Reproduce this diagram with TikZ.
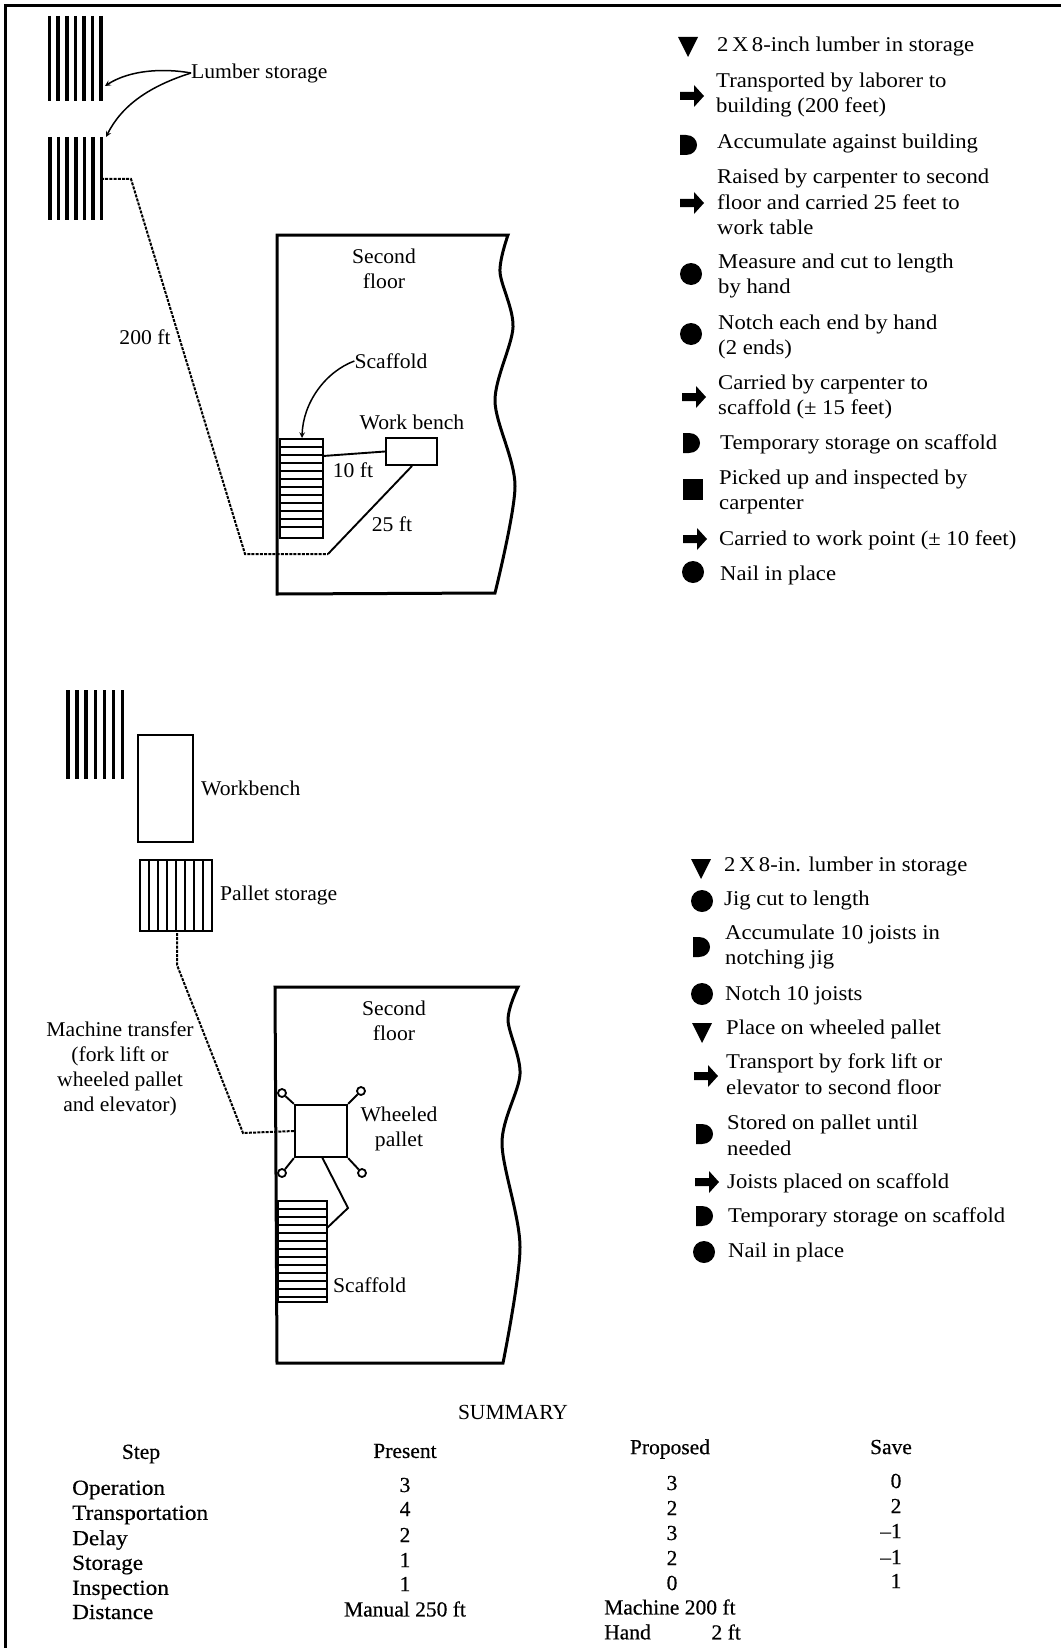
\documentclass[tikz,border=0pt]{standalone}
\usepackage{fontspec}
\setmainfont{Liberation Serif}
\newfontfamily\lblfont[FakeStretch=1.03]{Liberation Serif}
\newfontfamily\stepfont[FakeStretch=1.08]{Liberation Serif}
\newfontfamily\tblfont[FakeBold=0.5]{Liberation Serif}
\newfontfamily\rowfont[FakeBold=0.5,FakeStretch=1.08]{Liberation Serif}
\usepackage{tikz}
\usetikzlibrary{positioning}
\newcommand{\symstore}[2]{\fill[shift={(#1,#2)}] (-10,-9) -- (10,-9) -- (0,11) -- cycle;}
\newcommand{\symmove}[2]{\fill[shift={(#1,#2)}] (-12,-4) -- (2,-4) -- (2,-11) -- (12,0) -- (2,11) -- (2,4) -- (-12,4) -- cycle;}
\newcommand{\symdelay}[2]{\fill[shift={(#1,#2)}] (-8,-10) -- (-2,-10) .. controls (5,-10) and (9,-5) .. (9,0) .. controls (9,5) and (5,10) .. (-2,10) -- (-8,10) -- cycle;}
\newcommand{\symwork}[2]{\fill (#1,#2) circle[radius=11pt];}
\newcommand{\symcheck}[2]{\fill[shift={(#1,#2)}] (-10,-10.5) rectangle (10,10.5);}

\begin{document}
\begin{tikzpicture}
  [x=1pt, y=-1pt,
   lbl/.style={inner sep=0pt, font=\lblfont\fontsize{21}{25.2}\selectfont, align=center},
   step text/.style={inner sep=0pt, anchor=west, font=\stepfont\fontsize{21}{25.7}\selectfont, align=left},
   tbl/.style={inner sep=0pt, font=\tblfont\fontsize{21.5}{25}\selectfont},
   row/.style={inner sep=0pt, anchor=west, font=\rowfont\fontsize{21.5}{25}\selectfont},
   bar/.style={line width=3.6pt},
   wall/.style={line width=3pt},
   plain box/.style={draw, rectangle, line width=2.3pt, inner sep=0pt},
   slat/.style={line width=1.5pt},
   transfer/.style={line width=2pt, dash pattern=on 3pt off 1.2pt},
   thin link/.style={line width=1.9pt},
   wheel/.style={draw, circle, line width=1.8pt, inner sep=0pt, minimum size=8pt}]
  \useasboundingbox (0,0) rectangle (1061,1648);
  % Page frame
  \draw[line width=2.2pt] (5.5,1648) -- (5.5,5.5) -- (1061,5.5);

  % Present method: lumber stacks
  \foreach \i in {0,...,6} \draw[bar] ({49.5+\i*8.6},16) -- +(0,85);
  \foreach \i in {0,...,6} \draw[bar] ({50+\i*8.6},137) -- +(0,83);
  \node[lbl, anchor=west] (lumber) at (191,73) {Lumber storage};
  \coordinate (stackA) at (105,86);
  \coordinate (stackB) at (106,137);
  \draw[line width=1.5pt, -stealth] (lumber.west) .. controls (163,68) and (130,70) .. (stackA);
  \draw[line width=1.5pt, -stealth] (lumber.west) .. controls (150,86) and (122,105) .. (stackB);

  % Present method: building
  \draw[wall] (277,594) -- (277,235) -- (508,235)
    -- plot[smooth] coordinates {(508,235) (500,272) (513,327) (495,401) (515,486) (495,593)} -- cycle;
  \node[lbl] (floorA) at (384,269) {Second\\floor};
  \node[lbl] (scaffoldA) at (391,361) {Scaffold};
  \node[lbl] (benchlblA) at (412,422) {Work bench};
  \node[plain box, minimum width=51pt, minimum height=27pt] (benchA) at (411.5,451.5) {};
  \node[plain box, minimum width=43pt, minimum height=99pt] (stepsA) at (301.5,488.5) {};
  \foreach \y in {447,455,...,531} \draw[slat] (280,\y) -- (323,\y);
  \coordinate (stepsAtop) at (302,438);
  \draw[line width=1.5pt, -stealth] (scaffoldA.west) .. controls (325,372) and (303,403) .. (stepsAtop);
  \coordinate (stepsAside) at (323,456);
  \draw[thin link] (stepsAside) -- (benchA.west);

  % Present method: route
  \coordinate (routeA) at (101,179);
  \coordinate (routeB) at (131,179);
  \coordinate (routeC) at (245,554);
  \coordinate (routeD) at (328,554);
  \coordinate (routeE) at (412,466);
  \draw[transfer] (routeA) -- (routeB) -- (routeC) -- (routeD);
  \draw[thin link] (routeD) -- (routeE);
  \node[lbl] (distA) at (145,337) {200 ft};
  \node[lbl] (distB) at (353,470) {10 ft};
  \node[lbl] (distC) at (392,524) {25 ft};

  % Present method: steps
  \symstore{688}{46}
  \node[step text] (a1) at (717,46) {2\,X\,8-inch lumber in storage};
  \symmove{692}{96}
  \node[step text] (a2) at (716,95) {Transported by laborer to\\building (200 feet)};
  \symdelay{688}{145}
  \node[step text] (a3) at (717,143) {Accumulate against building};
  \symmove{692}{203}
  \node[step text] (a4) at (717,202) {Raised by carpenter to second\\floor and carried 25 feet to\\work table};
  \symwork{691}{274}
  \node[step text] (a5) at (718,276) {Measure and cut to length\\by hand};
  \symwork{691}{334}
  \node[step text] (a6) at (718,337) {Notch each end by hand\\(2 ends)};
  \symmove{694}{397}
  \node[step text] (a7) at (718,397) {Carried by carpenter to\\scaffold (± 15 feet)};
  \symdelay{691}{443}
  \node[step text] (a8) at (720,444) {Temporary storage on scaffold};
  \symcheck{693}{489}
  \node[step text] (a9) at (719,492) {Picked up and inspected by\\carpenter};
  \symmove{695}{539}
  \node[step text] (a10) at (719,540) {Carried to work point (± 10 feet)};
  \symwork{693}{572}
  \node[step text] (a11) at (720,575) {Nail in place};

  % Proposed method: storage and bench
  \foreach \i in {0,...,6} \draw[bar] ({68+\i*9.1},690) -- +(0,89);
  \node[plain box, minimum width=55pt, minimum height=107pt] (benchB) at (165.5,788.5) {};
  \node[lbl, anchor=west] (benchlblB) at (201,788) {Workbench};
  \node[plain box, minimum width=72pt, minimum height=71pt] (palletstore) at (176,895.5) {};
  \foreach \x in {149,158,...,203} \draw[slat] (\x,860) -- (\x,931);
  \node[lbl, anchor=west] (palletlbl) at (220,895) {Pallet storage};
  \node[lbl] (machine) at (120,1069) {Machine transfer\\(fork lift or\\wheeled pallet\\and elevator)};

  % Proposed method: building
  \draw[wall] (277,1363) -- (275,987) -- (518,987)
    -- plot[smooth] coordinates {(518,987) (508,1020) (520,1074) (502,1143) (520,1247) (503,1363)} -- cycle;
  \node[lbl] (floorB) at (394,1021) {Second\\floor};
  \node[plain box, minimum width=52pt, minimum height=52pt] (pallet) at (321,1131) {};
  \node[lbl] (palletname) at (399,1129) {Wheeled\\pallet};
  \node[wheel] (wheelA) at (282,1093) {};
  \node[wheel] (wheelB) at (361,1091) {};
  \node[wheel] (wheelC) at (282,1173) {};
  \node[wheel] (wheelD) at (362,1173) {};
  \draw[thin link] (pallet.north west) -- (wheelA) (pallet.north east) -- (wheelB)
    (pallet.south west) -- (wheelC) (pallet.south east) -- (wheelD);
  \node[plain box, minimum width=49pt, minimum height=101pt] (stepsB) at (302.5,1251.5) {};
  \foreach \y in {1209,1217,...,1297} \draw[slat] (278,\y) -- (327,\y);
  \node[lbl, anchor=west] (scaffoldB) at (333,1285) {Scaffold};

  % Proposed method: route
  \coordinate (linkA) at (322,1157);
  \coordinate (linkB) at (348,1208);
  \coordinate (linkC) at (327,1228);
  \draw[thin link] (linkA) -- (linkB) -- (linkC);
  \coordinate (moveA) at (177,933);
  \coordinate (moveB) at (177,965);
  \coordinate (moveC) at (243,1133);
  \draw[transfer] (moveA) -- (moveB) -- (moveC) -- (pallet.west);

  % Proposed method: steps
  \symstore{701}{868}
  \node[step text] (b1) at (724,866) {2\,X\,8-in. lumber in storage};
  \symwork{702}{901}
  \node[step text] (b2) at (724,900) {Jig cut to length};
  \symdelay{701}{947}
  \node[step text] (b3) at (725,947) {Accumulate 10 joists in\\notching jig};
  \symwork{702}{994}
  \node[step text] (b4) at (725,995) {Notch 10 joists};
  \symstore{702}{1032}
  \node[step text] (b5) at (726,1029) {Place on wheeled pallet};
  \symmove{706}{1076}
  \node[step text] (b6) at (726,1074) {Transport by fork lift or\\elevator to second floor};
  \symdelay{704}{1134}
  \node[step text] (b7) at (727,1135) {Stored on pallet until\\needed};
  \symmove{707}{1182}
  \node[step text] (b8) at (727,1183) {Joists placed on scaffold};
  \symdelay{704}{1216}
  \node[step text] (b9) at (728,1217) {Temporary storage on scaffold};
  \symwork{704}{1252}
  \node[step text] (b10) at (728,1252) {Nail in place};

  % Summary table
  \node[inner sep=0pt, font=\fontsize{21.5}{25}\selectfont] (sumtitle) at (513,1412) {SUMMARY};
  \node[tbl] (h1) at (141,1454) {Step};
  \node[tbl] (h2) at (405,1451) {Present};
  \node[tbl] (h3) at (670,1449) {Proposed};
  \node[tbl] (h4) at (891,1447) {Save};
  \node[row] (r1) at (72,1490) {Operation};
  \node[row] (r2) at (72,1515) {Transportation};
  \node[row] (r3) at (72,1540) {Delay};
  \node[row] (r4) at (72,1565) {Storage};
  \node[row] (r5) at (72,1590) {Inspection};
  \node[row] (r6) at (72,1612) {Distance};
  \node[tbl] (p1) at (405,1485) {3};
  \node[tbl] (p2) at (405,1509) {4};
  \node[tbl] (p3) at (405,1535) {2};
  \node[tbl] (p4) at (405,1560) {1};
  \node[tbl] (p5) at (405,1584) {1};
  \node[tbl] (p6) at (405,1609) {Manual 250 ft};
  \node[tbl] (q1) at (672,1483) {3};
  \node[tbl] (q2) at (672,1508) {2};
  \node[tbl] (q3) at (672,1533) {3};
  \node[tbl] (q4) at (672,1558) {2};
  \node[tbl] (q5) at (672,1583) {0};
  \node[tbl, anchor=west] (q6) at (604,1607) {Machine 200 ft};
  \node[tbl, anchor=west] (q7) at (604,1632) {Hand};
  \node[tbl, anchor=east] (q8) at (741,1632) {2 ft};
  \node[tbl] (s1) at (896,1481) {0};
  \node[tbl] (s2) at (896,1506) {2};
  \node[tbl] (s3) at (891,1531) {–1};
  \node[tbl] (s4) at (891,1557) {–1};
  \node[tbl] (s5) at (896,1581) {1};
\end{tikzpicture}
\end{document}
